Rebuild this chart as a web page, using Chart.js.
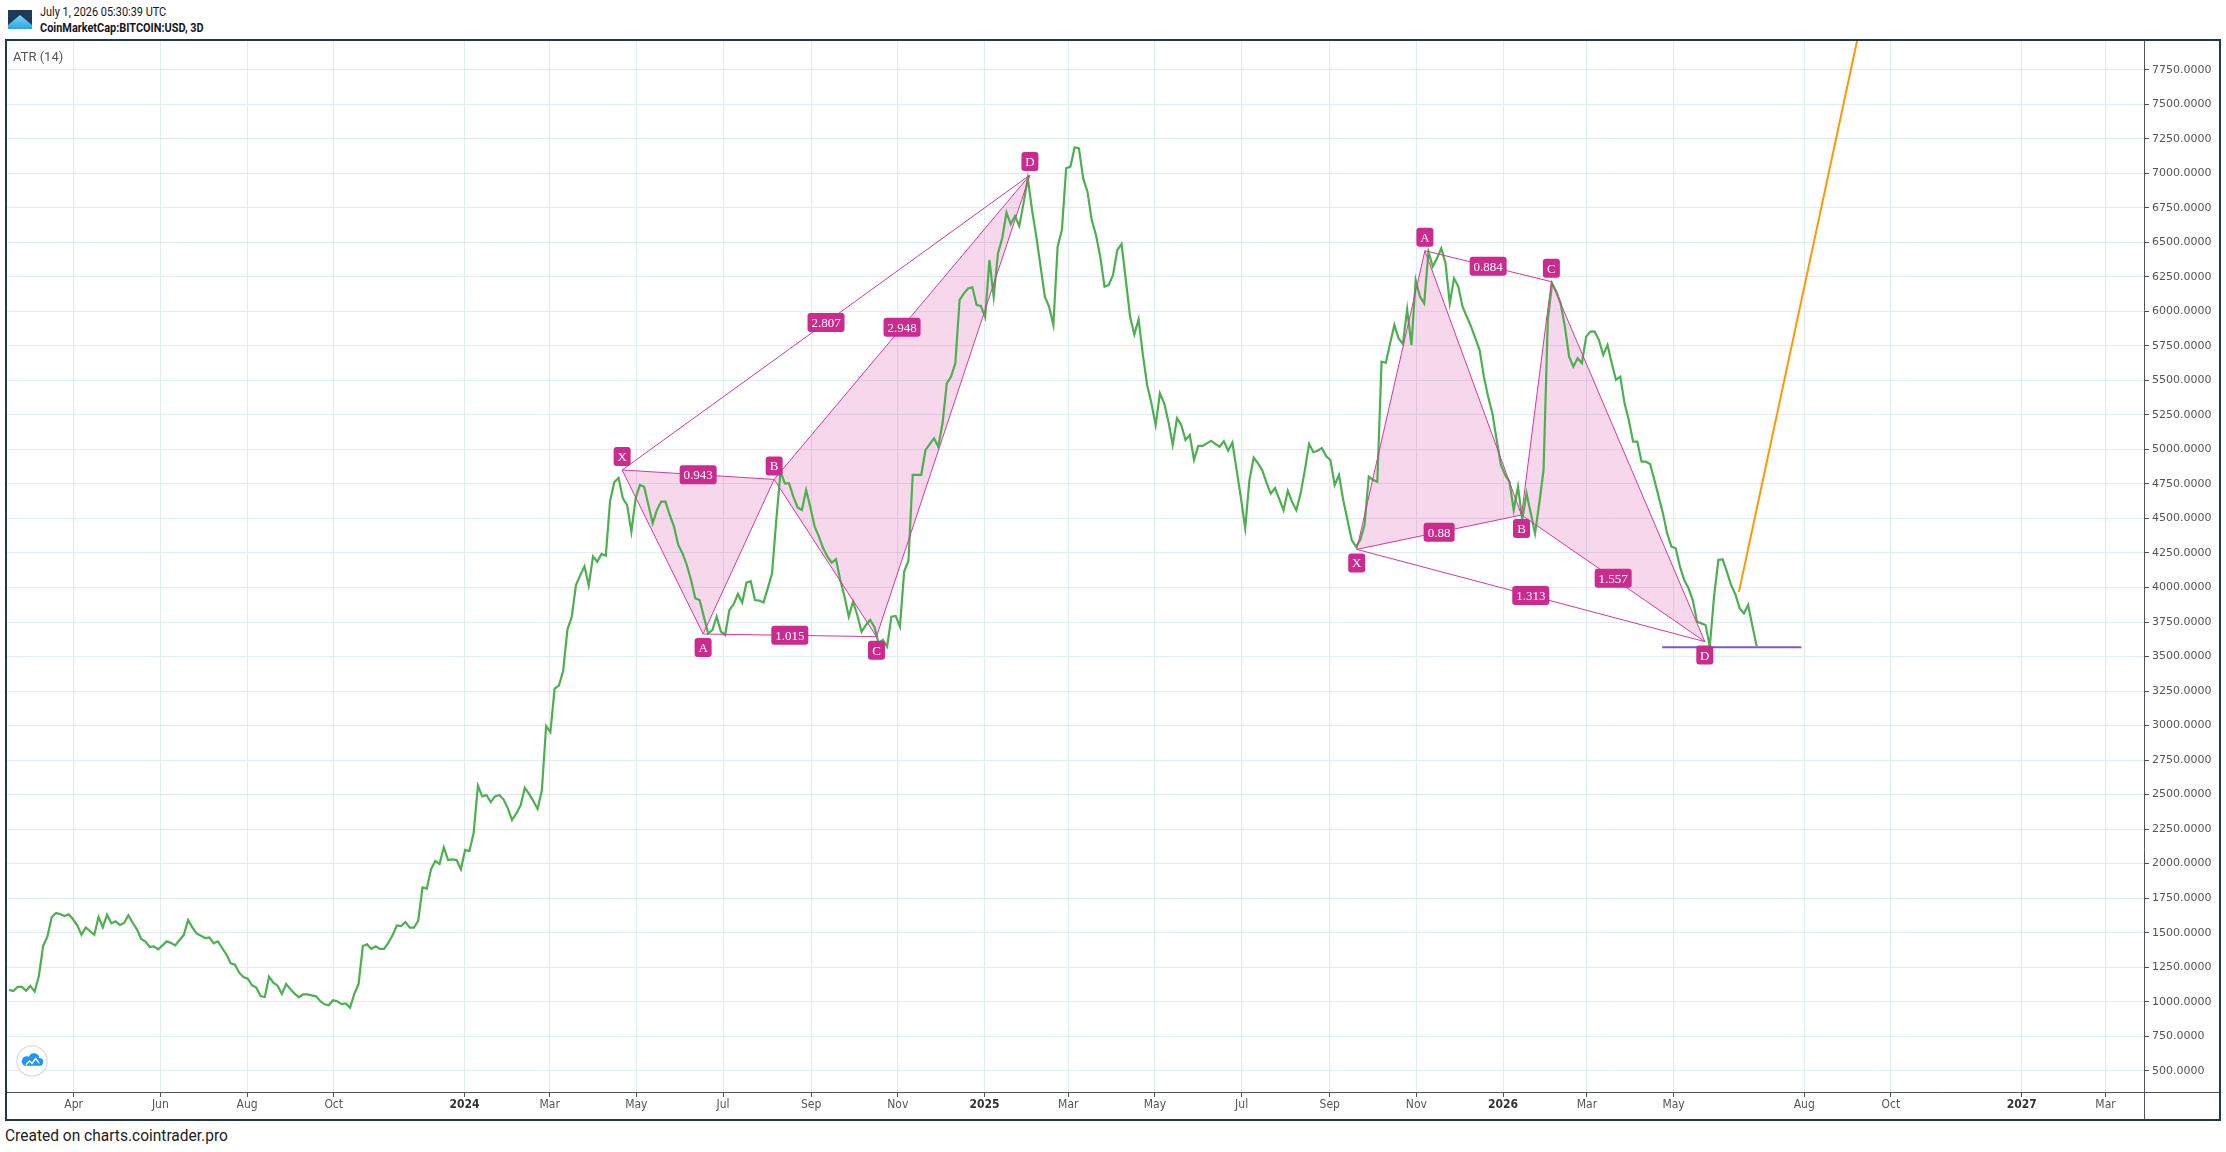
<!DOCTYPE html>
<html>
<head>
<meta charset="utf-8">
<title>BITCOIN ATR (14)</title>
<script src="https://cdn.jsdelivr.net/npm/chart.js@4.4.1/dist/chart.umd.min.js"></script>
<style>
  html, body { margin: 0; padding: 0; background: #fff; }
  body { width: 2226px; height: 1152px; position: relative; overflow: hidden; font-family: Roboto, sans-serif; }
  #logo { position: absolute; left: 8px; top: 10px; }
  .head { position: absolute; left: 40px; font-size: 12px; color: #131722; white-space: nowrap; transform: scaleX(.91); transform-origin: left top; }
  #stamp { top: 5px; }
  #symbol { top: 21px; font-weight: bold; }
  #frame { position: absolute; left: 5px; top: 39px; width: 2212px; height: 1078px; border: 2px solid #1f3a4b; }
  #wrap { position: absolute; left: 0; top: 0; width: 2212px; height: 1078px; }
  #atr { position: absolute; left: 6px; top: 8px; font-size: 13px; color: #555; }
  #cloud { position: absolute; left: 8px; top: 1003px; }
  #footer { position: absolute; left: 5px; top: 1126px; font-size: 16px; color: #222; white-space: nowrap; transform: scaleX(.97); transform-origin: left top; }
</style>
</head>
<body>
<svg id="logo" width="24" height="19" viewBox="0 0 24 19">
  <defs><linearGradient id="lg" x1="0" y1="0" x2="0" y2="1"><stop offset="0" stop-color="#9fe3ff"/><stop offset="1" stop-color="#2aa6e0"/></linearGradient></defs>
  <rect x="0" y="0" width="24" height="19" fill="url(#lg)"/>
  <polygon points="0,0 24,0 24,15 12,5 0,15" fill="#1d3b57"/>
</svg>
<div class="head" id="stamp">July 1, 2026 05:30:39 UTC</div>
<div class="head" id="symbol">CoinMarketCap:BITCOIN:USD, 3D</div>

<div id="frame">
  <div id="wrap"><canvas id="chart"></canvas></div>
  <div id="atr">ATR (14)</div>
  <svg id="cloud" width="34" height="34" viewBox="0 0 28 28">
    <circle cx="14" cy="14" r="12.5" fill="#fff" stroke="#d6dde3" stroke-width="1"/>
    <path d="M8 18 h12 a3.2 3.2 0 0 0 0-6.4 a4.5 4.5 0 0 0-8.6-1.2 a3.4 3.4 0 0 0-3.4 7.6 z" fill="#2196f3"/>
    <polyline points="9,17 12,14 14,16 17,12 20,16" fill="none" stroke="#fff" stroke-width="1.2"/>
  </svg>
</div>
<div id="footer">Created on charts.cointrader.pro</div>

<script>
const DAY = 86400000;
// first 3D bar and bar step
const START = Date.UTC(2023, 1, 14, 12);
const STEP = 3 * DAY;

// ATR (14) values, one per 3D bar
const atrValues = [
  1085, 1078, 1107, 1107, 1080, 1114, 1073, 1186, 1404, 1471, 1611, 1642, 1635, 1621, 1633, 1597, 1553, 1485, 1538, 1510,
  1485, 1613, 1538, 1630, 1568, 1582, 1556, 1570, 1626, 1572, 1524, 1454, 1435, 1396, 1401, 1379, 1408, 1437, 1425, 1408,
  1447, 1483, 1592, 1538, 1495, 1478, 1461, 1466, 1423, 1437, 1389, 1341, 1278, 1268, 1210, 1179, 1167, 1119, 1102, 1041,
  1034, 1181, 1138, 1116, 1056, 1128, 1092, 1058, 1032, 1053, 1053, 1046, 1039, 1005, 981, 974, 1010, 1003, 983, 988,
  957, 1056, 1128, 1403, 1415, 1382, 1401, 1382, 1382, 1428, 1483, 1553, 1548, 1577, 1536, 1536, 1587, 1828, 1819, 1959,
  2019, 1997, 2118, 2026, 2031, 2026, 1959, 2099, 2091,
  2221, 2565, 2487, 2497, 2446, 2487, 2497, 2466, 2402, 2316, 2363, 2420, 2549, 2505, 2453, 2396, 2531, 2996, 2952, 3268,
  3289, 3397, 3695, 3785, 4018, 4088, 4153, 4013, 4225, 4186, 4243, 4230, 4626, 4763, 4794,
  4646, 4597, 4404, 4646, 4742, 4730, 4597, 4465, 4561, 4622, 4622, 4525, 4441, 4308, 4247, 4163, 4054, 3921, 3909, 3789,
  3668, 3692, 3789, 3680, 3656, 3837, 3880, 3953, 3890, 4035, 4045, 3909, 3905, 3892, 3994, 4103, 4489, 4839, 4754, 4754,
  4658, 4580, 4561, 4706, 4580, 4441, 4368, 4284, 4223, 4180, 4204, 4054, 3934, 3789, 3897, 3801, 3680, 3728, 3765, 3716,
  3596, 3620, 3571, 3789, 3794, 3716, 4115, 4194, 4815, 4815, 4815, 4996, 5039, 5080, 5020, 5189,
  5479, 5527, 5624, 6082, 6130, 6166, 6174, 6046, 6039, 5957, 6372, 6106, 6420, 6529, 6715, 6632, 6690, 6618, 6782, 6963,
  6734, 6541, 6324, 6106, 6034, 5901, 6468, 6589, 7036, 7048, 7188, 7181, 6963, 6867, 6661, 6553, 6396, 6179, 6191, 6263,
  6444, 6488, 6227, 5961, 5833, 5942, 5684, 5467, 5334, 5177, 5406, 5334, 5201, 5032, 5225, 5177, 5068, 5104, 4924, 5025,
  5025, 5044, 5063,
  5040, 5020, 5060, 4990, 5050, 4850, 4650, 4430, 4780, 4940, 4900, 4850, 4760, 4680, 4720, 4640, 4560, 4700, 4620, 4560,
  4680, 4850, 5040, 4980, 4990, 5010, 4950,
  4923, 4742, 4815, 4634, 4489, 4344, 4296, 4344, 4453, 4803, 4779, 4766, 5636, 5628, 5768, 5901, 5804, 5764, 6015, 5756,
  6227, 6106, 6058, 6432, 6324, 6384, 6456, 6348, 6058, 6239, 6179, 6034, 5961, 5889, 5804, 5720, 5527, 5382, 5261, 5068,
  4887, 4815, 4766, 4561, 4730, 4489, 4682, 4537, 4392, 4610, 4851, 5937, 6203, 6142, 6058, 5889, 5672, 5599, 5660, 5624,
  5817, 5853, 5853, 5792, 5684, 5756, 5624, 5503, 5527, 5334, 5213, 5056, 5056, 4911, 4911, 4894, 4779, 4658, 4537, 4392,
  4296, 4284, 4151, 4054, 3994, 3909, 3752, 3740, 3728, 3571, 3934, 4199, 4204, 4115, 4018,
  3950, 3850, 3812, 3874, 3720, 3575
];

// harmonic patterns: points X A B C D, ratios on XB, AC, XD, BD
const pointNames = ['X', 'A', 'B', 'C', 'D'];
const pattern1Dates = ['2024-04-21', '2024-06-17', '2024-08-06', '2024-10-17', '2025-02-02'];
const pattern1Values = [4851, 3663, 4783, 3644, 6987];
const pattern1Ratios = ['0.943', '1.015', '2.807', '2.948'];
const pattern2Dates = ['2025-09-20', '2025-11-07', '2026-01-14', '2026-02-04', '2026-05-23'];
const pattern2Values = [4276, 6439, 4525, 6215, 3608];
const pattern2Ratios = ['0.88', '0.884', '1.313', '1.557'];

// trend line (orange) and horizontal level (purple)
const targetDates = ['2026-06-16', '2026-09-08'];
const targetValues = [3968, 8000];
const levelDates = ['2026-04-23', '2026-07-30'];
const levelValues = [3567, 3567];

// axis ticks
const xTickDates = ['2023-04-01', '2023-06-01', '2023-08-01', '2023-10-01', '2024-01-01', '2024-03-01', '2024-05-01',
  '2024-07-01', '2024-09-01', '2024-11-01', '2025-01-01', '2025-03-01', '2025-05-01', '2025-07-01', '2025-09-01',
  '2025-11-01', '2026-01-01', '2026-03-01', '2026-05-01', '2026-08-01', '2026-10-01', '2027-01-01', '2027-03-01'];
const xTickLabels = ['Apr', 'Jun', 'Aug', 'Oct', '2024', 'Mar', 'May', 'Jul', 'Sep', 'Nov', '2025', 'Mar', 'May',
  'Jul', 'Sep', 'Nov', '2026', 'Mar', 'May', 'Aug', 'Oct', '2027', 'Mar'];
const yTickValues = [500, 750, 1000, 1250, 1500, 1750, 2000, 2250, 2500, 2750, 3000, 3250, 3500, 3750, 4000, 4250,
  4500, 4750, 5000, 5250, 5500, 5750, 6000, 6250, 6500, 6750, 7000, 7250, 7500, 7750];

const APR1 = Date.UTC(2023, 3, 1);
const xMin = APR1 - 46.94 * DAY;
const xMax = APR1 + 1457.1 * DAY;

const toMs = s => Date.parse(s + 'T00:00:00Z');
const pairs = (dates, vals) => dates.map((d, i) => ({ x: toMs(d), y: vals[i] }));

const patterns = [
  { dates: pattern1Dates, values: pattern1Values, ratios: pattern1Ratios },
  { dates: pattern2Dates, values: pattern2Values, ratios: pattern2Ratios }
];

const MAGENTA = '#d4399a';
const BOX = '#cb2a8e';

function roundBox(ctx, cx, cy, w, h, r) {
  const x = cx - w / 2, y = cy - h / 2;
  ctx.beginPath();
  ctx.moveTo(x + r, y);
  ctx.arcTo(x + w, y, x + w, y + h, r);
  ctx.arcTo(x + w, y + h, x, y + h, r);
  ctx.arcTo(x, y + h, x, y, r);
  ctx.arcTo(x, y, x + w, y, r);
  ctx.closePath();
  ctx.fill();
}

function label(ctx, text, cx, cy) {
  ctx.font = '13px "Liberation Serif", "DejaVu Serif", serif';
  const w = Math.round(ctx.measureText(text).width) + 8;
  ctx.fillStyle = BOX;
  roundBox(ctx, cx, cy, w, 19, 3);
  ctx.fillStyle = '#fff';
  ctx.textAlign = 'center';
  ctx.textBaseline = 'middle';
  ctx.fillText(text, cx, cy + 1);
}

const harmonicPlugin = {
  id: 'harmonic',
  beforeDatasetsDraw(chart) {
    const { ctx, chartArea: a, scales: { x, y } } = chart;
    ctx.save();
    ctx.beginPath();
    ctx.rect(a.left, a.top, a.right - a.left, a.bottom - a.top);
    ctx.clip();
    ctx.fillStyle = 'rgba(214, 57, 154, 0.2)';
    patterns.forEach(p => {
      const P = p.dates.map((d, i) => [x.getPixelForValue(toMs(d)), y.getPixelForValue(p.values[i])]);
      [[0, 1, 2], [2, 3, 4]].forEach(t => {
        ctx.beginPath();
        ctx.moveTo(P[t[0]][0], P[t[0]][1]);
        ctx.lineTo(P[t[1]][0], P[t[1]][1]);
        ctx.lineTo(P[t[2]][0], P[t[2]][1]);
        ctx.closePath();
        ctx.fill();
      });
    });
    ctx.restore();
  },
  afterDatasetsDraw(chart) {
    const { ctx, chartArea: a, scales: { x, y } } = chart;
    ctx.save();
    ctx.beginPath();
    ctx.rect(a.left, a.top, a.right - a.left, a.bottom - a.top);
    ctx.clip();
    patterns.forEach(p => {
      const P = p.dates.map((d, i) => [x.getPixelForValue(toMs(d)), y.getPixelForValue(p.values[i])]);
      ctx.strokeStyle = MAGENTA;
      ctx.lineWidth = 1;
      [[0, 1], [1, 2], [2, 3], [3, 4], [0, 2], [1, 3], [0, 4], [2, 4]].forEach(s => {
        ctx.beginPath();
        ctx.moveTo(P[s[0]][0], P[s[0]][1]);
        ctx.lineTo(P[s[1]][0], P[s[1]][1]);
        ctx.stroke();
      });
      [[0, 2], [1, 3], [0, 4], [2, 4]].forEach((s, k) => {
        label(ctx, p.ratios[k], (P[s[0]][0] + P[s[1]][0]) / 2, (P[s[0]][1] + P[s[1]][1]) / 2);
      });
      pointNames.forEach((n, i) => {
        const ref = i === 0 ? p.values[1] : p.values[i - 1];
        const up = p.values[i] > ref;
        label(ctx, n, P[i][0], P[i][1] + (up ? -13.5 : 13.5));
      });
    });
    ctx.restore();
  },
  afterDraw(chart) {
    const { ctx, chartArea: a } = chart;
    ctx.save();
    ctx.strokeStyle = '#50535e';
    ctx.lineWidth = 1;
    ctx.beginPath();
    ctx.moveTo(0, Math.round(a.bottom) + 0.5);
    ctx.lineTo(chart.width, Math.round(a.bottom) + 0.5);
    ctx.moveTo(Math.round(a.right) + 0.5, 0);
    ctx.lineTo(Math.round(a.right) + 0.5, chart.height);
    ctx.stroke();
    ctx.restore();
  }
};

new Chart(document.getElementById('chart'), {
  type: 'line',
  data: {
    datasets: [
      {
        label: 'ATR (14)',
        data: atrValues.map((v, i) => ({ x: START + i * STEP, y: v })),
        borderColor: '#4caf50',
        borderWidth: 2.2,
        pointRadius: 0,
        tension: 0,
        clip: 0
      },
      {
        label: 'target',
        data: pairs(targetDates, targetValues),
        borderColor: '#ff9800',
        borderWidth: 2,
        pointRadius: 0,
        clip: 0
      },
      {
        label: 'level',
        data: pairs(levelDates, levelValues),
        borderColor: '#7e57c2',
        borderWidth: 2,
        pointRadius: 0,
        clip: 0
      }
    ]
  },
  options: {
    responsive: true,
    maintainAspectRatio: false,
    animation: false,
    layout: { padding: 0 },
    plugins: {
      legend: { display: false },
      tooltip: { enabled: false }
    },
    scales: {
      x: {
        type: 'linear',
        min: xMin,
        max: xMax,
        afterBuildTicks: s => { s.ticks = xTickDates.map(d => ({ value: toMs(d) })); },
        afterFit: s => { s.height = 27; s.paddingLeft = 0; s.paddingRight = 0; },
        grid: { color: '#e1ecf2', tickColor: '#50535e', tickLength: 5 },
        border: { display: false },
        ticks: {
          autoSkip: false,
          maxRotation: 0,
          padding: 1,
          color: ctx => /^\d{4}$/.test(xTickLabels[ctx.index]) ? '#333' : '#555',
          font: ctx => ({
            family: '"DejaVu Sans Condensed", "Liberation Sans Narrow", "DejaVu Sans"',
            size: 12,
            weight: /^\d{4}$/.test(xTickLabels[ctx.index]) ? 'bold' : 'normal'
          }),
          callback: (v, i) => xTickLabels[i]
        }
      },
      y: {
        position: 'right',
        min: 346,
        max: 7958,
        afterBuildTicks: s => { s.ticks = yTickValues.map(v => ({ value: v })); },
        afterFit: s => { s.width = 75; s.paddingTop = 0; s.paddingBottom = 0; },
        grid: { color: '#e1ecf2', tickColor: '#50535e', tickLength: 5 },
        border: { display: false },
        ticks: {
          autoSkip: false,
          padding: 3,
          color: '#555',
          font: { family: '"DejaVu Sans"', size: 11 },
          callback: v => Number(v).toFixed(4)
        }
      }
    }
  },
  plugins: [harmonicPlugin]
});
</script>
</body>
</html>
